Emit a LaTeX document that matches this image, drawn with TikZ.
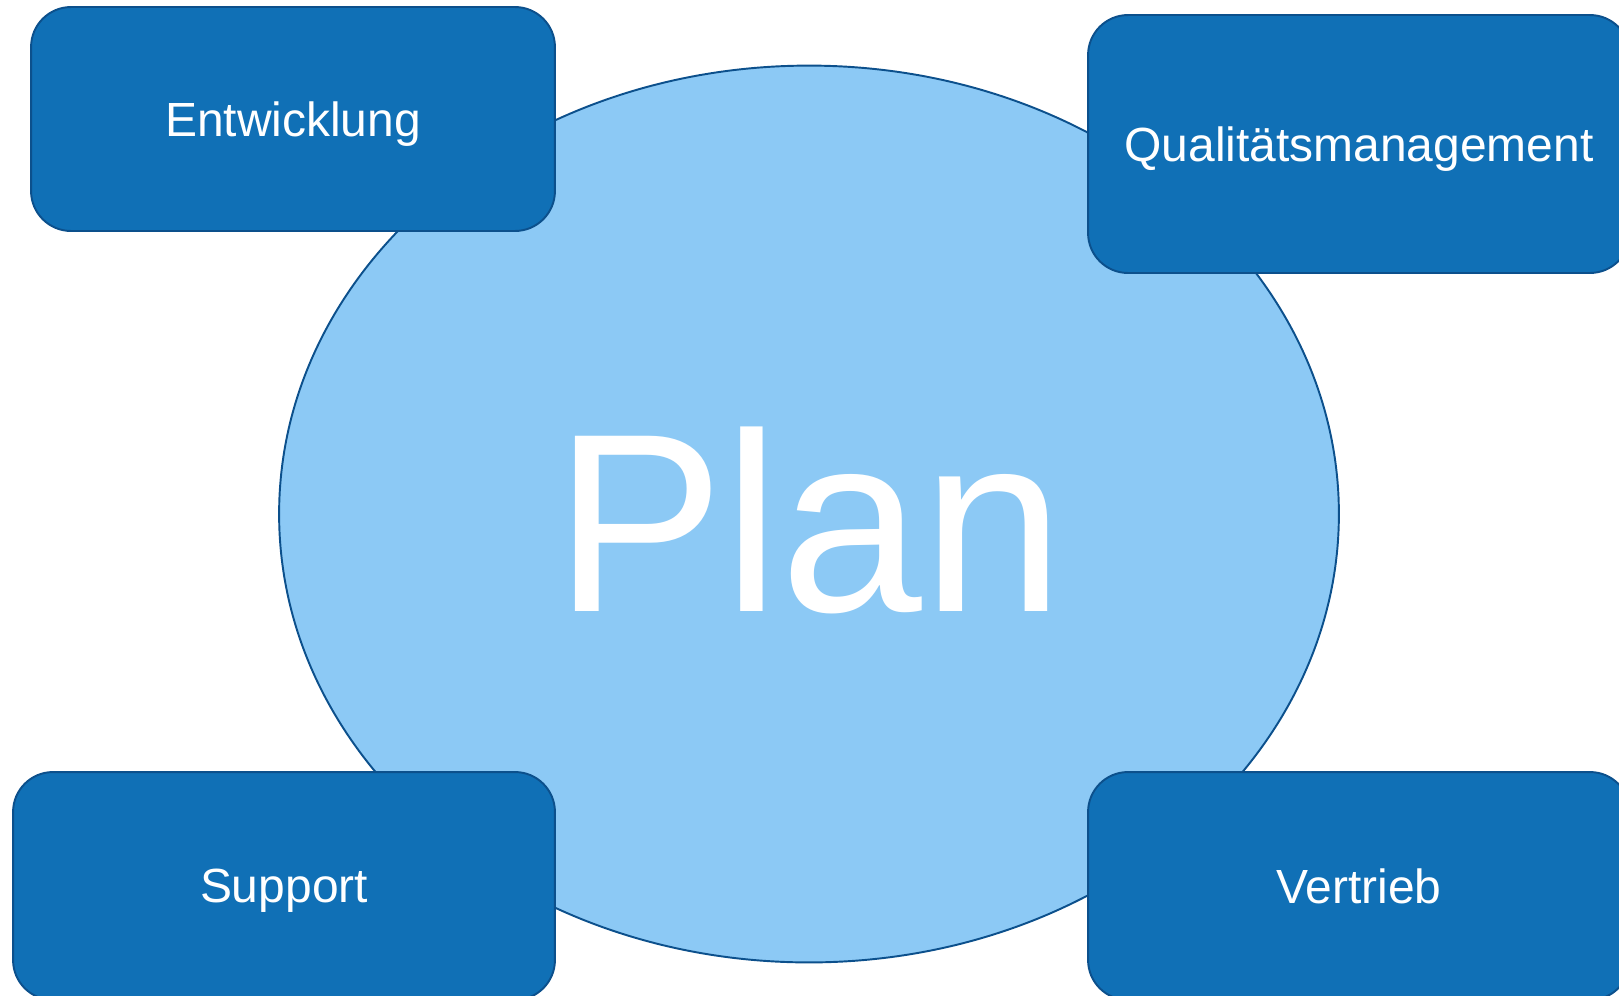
\documentclass[tikz,border=0pt]{standalone}
\usepackage{fontspec}
\setmainfont{Liberation Sans}
\usetikzlibrary{shapes.geometric}
\definecolor{box_blue}{RGB}{16, 112, 182}
\definecolor{plan_blue}{RGB}{140, 201, 245}
\definecolor{edge_blue}{RGB}{12, 80, 140}
\tikzstyle{dept}=[rectangle,rounded corners=0.8cm,fill=box_blue,draw=edge_blue,
  line width=1.1pt,inner sep=0pt,text=white,text depth=0pt,
  font=\fontsize{27.3}{32}\selectfont]
\tikzstyle{plan}=[ellipse,fill=plan_blue,draw=edge_blue,line width=1.1pt,
  inner sep=0pt,minimum width=21.2cm,minimum height=17.94cm,text=white,
  text height=112pt,font=\fontsize{145}{150}\selectfont]

\begin{document}
\begin{tikzpicture}[x=0.02cm, y=-0.02cm]
            \useasboundingbox (0, 0) rectangle (1619, 995);
            \clip (0, 0) rectangle (1619, 995);
            \node [style=plan] (0) at (809, 514) {Plan};
            \node [style=dept, minimum width=10.48cm, minimum height=4.48cm] (1) at (293, 119) {Entwicklung};
            \node [style=dept, minimum width=10.84cm, minimum height=5.16cm] (2) at (1359, 144) {Qualitätsmanagement};
            \node [style=dept, minimum width=10.84cm, minimum height=4.56cm] (3) at (284, 886) {Support};
            \node [style=dept, minimum width=10.84cm, minimum height=4.56cm] (4) at (1359, 886) {Vertrieb};
    \end{tikzpicture}
\end{document}
